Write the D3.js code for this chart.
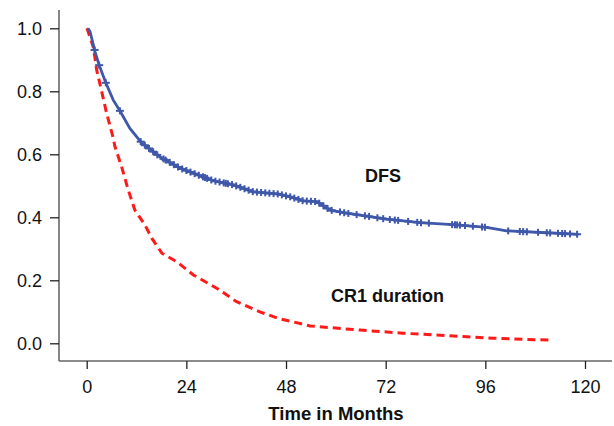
<!DOCTYPE html>
<html><head><meta charset="utf-8">
<script src="https://cdn.jsdelivr.net/npm/d3@7"></script>
<style>body{margin:0;background:#fff;}text{font-family:"Liberation Sans",Arial,sans-serif;fill:#111;}</style>
</head><body><svg id="c" width="614" height="426"></svg>
<script>
// DFS (disease-free survival) curve: [months, proportion]
const dfsMonths = [0.3,0.8,2,3,4.6,6.4,8,10.4,13.2,17.6,22.5,30.5,35.3,40.1,46.1,49,52.2,55.4,58.6,62.6,67.4,72.2,80.3,89.1,96.3,101.1,110.8,118.4];
const dfsValues = [1.0,0.99,0.926,0.883,0.827,0.772,0.738,0.682,0.637,0.592,0.556,0.516,0.503,0.481,0.474,0.465,0.452,0.45,0.423,0.413,0.404,0.394,0.383,0.376,0.368,0.357,0.351,0.346];
// censoring times on DFS
const dfsCensor = [1.9,3.0,4.6,8.0,13,14,15,16,17,18.5,19,20,21,22,23,24,25,26,27,28,28.5,29,30,31,32,33,33.5,34,35,36,37,38,39,40,41,42,43,44,45,46,47,48,49,50,51,52,53,54,55,56,57,58,59,61,62,63,65,67,68,70,71.4,73,74.2,75,77.4,79.6,80.5,82.4,88,88.7,89.2,89.9,91.1,93,95.2,95.9,101.5,104.3,105.1,106,108.7,110.8,111.6,113.5,114.5,115.2,116.4,118.1];
// CR1 duration curve
const cr1Months = [0,0.2,1.6,2.4,3.6,4.8,6.4,6.8,8.4,10,11.6,14,15.7,18.1,21.7,25.7,31.3,36.1,41.7,46.1,51.4,53.8,65.8,76.2,91.5,97.9,111.6];
const cr1Values = [1.0,0.995,0.94,0.868,0.80,0.73,0.651,0.624,0.561,0.487,0.423,0.376,0.333,0.286,0.259,0.217,0.175,0.132,0.10,0.079,0.063,0.055,0.042,0.032,0.021,0.016,0.01];
const xTicks = [0,24,48,72,96,120];
const yTicks = [0.0,0.2,0.4,0.6,0.8,1.0];
const seriesLabels = ["DFS","CR1 duration"];

const svg = d3.select("#c");
const x = d3.scaleLinear().domain([0,120]).range([86.7,585]);
const y = d3.scaleLinear().domain([0,1]).range([343.3,28.3]);
const axisColor = "#666";

svg.append("line").attr("x1",59).attr("x2",59).attr("y1",10).attr("y2",361).attr("stroke",axisColor).attr("stroke-width",1.6);
svg.append("line").attr("x1",59).attr("x2",612).attr("y1",361).attr("y2",361).attr("stroke",axisColor).attr("stroke-width",1.6);

const yAxis = d3.axisLeft(y).tickValues(yTicks).tickFormat(d3.format(".1f")).tickSize(9).tickPadding(8);
const gy = svg.append("g").attr("transform","translate(59,0)").call(yAxis);
gy.select(".domain").remove();
gy.selectAll("line").attr("stroke","#222").attr("stroke-width",1.3);
gy.selectAll("text").attr("font-size",18).attr("fill","#111").attr("font-family","Liberation Sans, Arial, sans-serif");

const xAxis = d3.axisBottom(x).tickValues(xTicks).tickSize(8).tickPadding(11);
const gx = svg.append("g").attr("transform","translate(0,361)").call(xAxis);
gx.select(".domain").remove();
gx.selectAll("line").attr("stroke","#222").attr("stroke-width",1.3);
gx.selectAll("text").attr("font-size",18).attr("fill","#111").attr("font-family","Liberation Sans, Arial, sans-serif");

svg.append("text").attr("x",336).attr("y",420).attr("text-anchor","middle").attr("font-size",18.5).attr("font-weight","bold").text("Time in Months");

const line = d3.line().x(d=>x(d[0])).y(d=>y(d[1]));
const dfs = dfsMonths.map((m,i)=>[m,dfsValues[i]]);
const cr1 = cr1Months.map((m,i)=>[m,cr1Values[i]]);

svg.append("path").datum(cr1).attr("d",line).attr("fill","none").attr("stroke","#ff1a1a").attr("stroke-width",3).attr("stroke-dasharray","8,5");
svg.append("path").datum(dfs).attr("d",line).attr("fill","none").attr("stroke","#3f58aa").attr("stroke-width",2.8);

const interp = m => {
  for (let i=1;i<dfs.length;i++){ if (m<=dfs[i][0]) { const t=(m-dfs[i-1][0])/(dfs[i][0]-dfs[i-1][0]); return dfs[i-1][1]+t*(dfs[i][1]-dfs[i-1][1]); } }
  return dfs[dfs.length-1][1];
};
const cg = svg.append("g").attr("stroke","#3f58aa").attr("stroke-width",2);
dfsCensor.forEach(m=>{
  const cx=x(m), cy=y(interp(m));
  cg.append("line").attr("x1",cx-4).attr("x2",cx+4).attr("y1",cy).attr("y2",cy);
  cg.append("line").attr("x1",cx).attr("x2",cx).attr("y1",cy-3.5).attr("y2",cy+3.5);
});

svg.append("text").attr("x",365).attr("y",182).attr("font-size",18).attr("font-weight","bold").text(seriesLabels[0]);
svg.append("text").attr("x",331).attr("y",302).attr("font-size",18).attr("font-weight","bold").text(seriesLabels[1]);
</script></body></html>
